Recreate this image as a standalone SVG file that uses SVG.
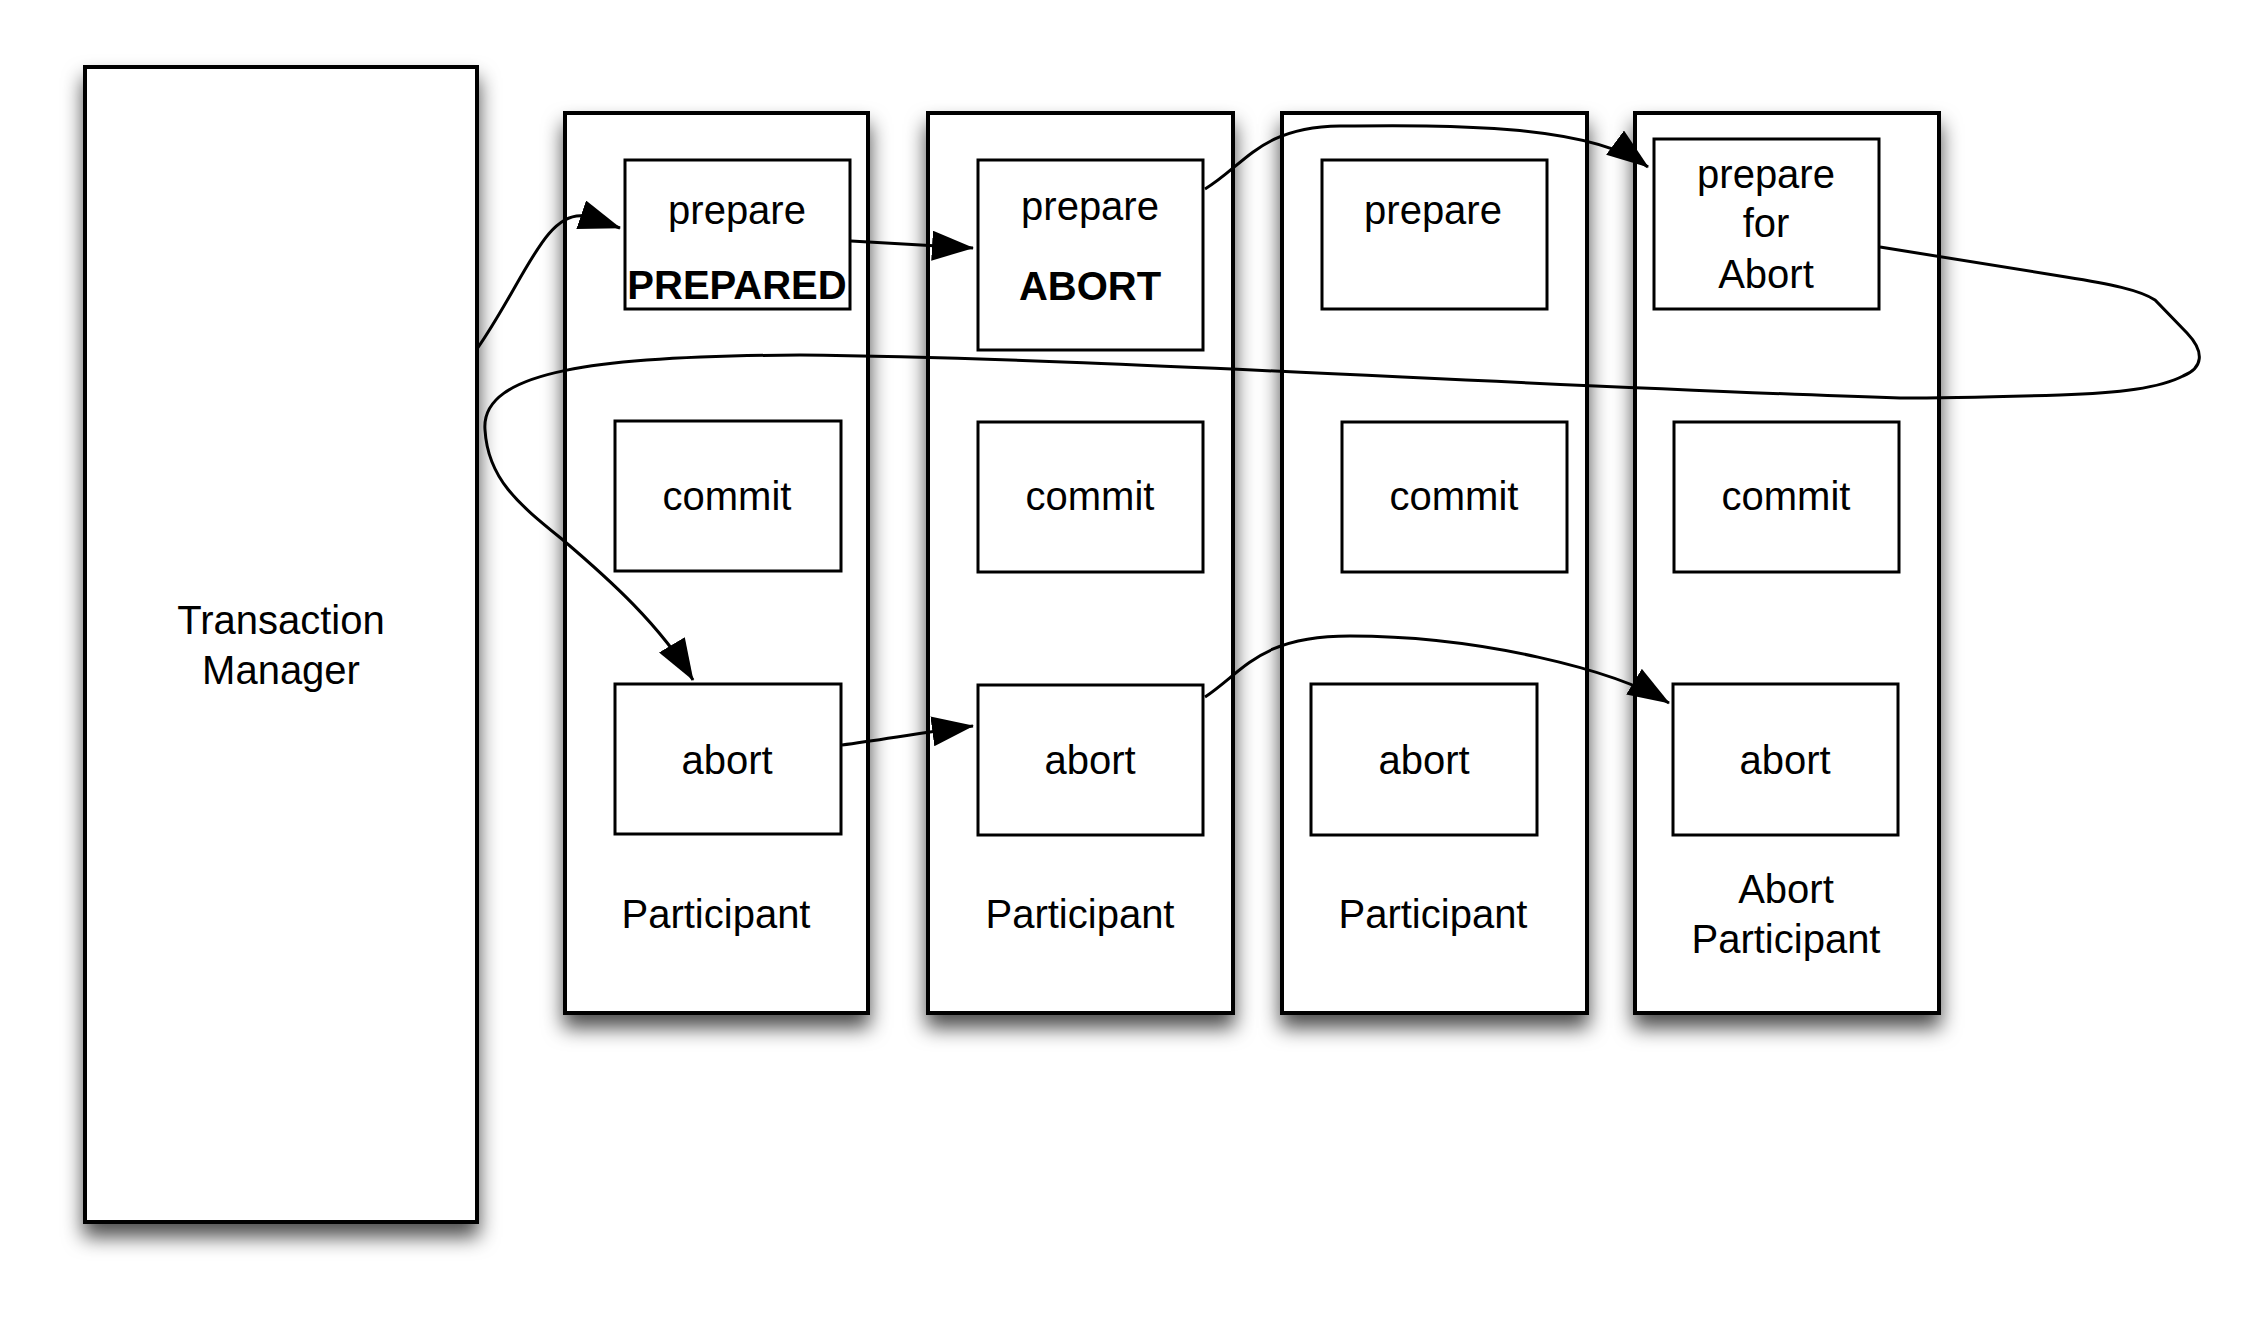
<svg xmlns="http://www.w3.org/2000/svg" width="2245" height="1320" viewBox="0 0 2245 1320">
<defs>
<style>
.outer{fill:#fff;stroke:#000;stroke-width:4;filter:url(#sh)}
.inner{fill:#fff;stroke:#000;stroke-width:3}
.t{font-family:"Liberation Sans",Arial,Helvetica,sans-serif;font-size:40px;fill:#000;text-anchor:middle}
.b{font-weight:bold}
.c{fill:none;stroke:#000;stroke-width:3;marker-end:url(#ah)}
</style>
<filter id="sh" x="-20%" y="-10%" width="140%" height="125%">
<feDropShadow dx="0" dy="13" stdDeviation="10" flood-color="#000" flood-opacity="0.7"/>
</filter>
<marker id="ah" markerUnits="userSpaceOnUse" markerWidth="42" markerHeight="30" viewBox="0 0 42 30" refX="41" refY="15" orient="auto">
<path d="M0,0 L42,15 L0,30 z" fill="#000"/>
</marker>
</defs>
<rect width="2245" height="1320" fill="#fff"/>

<g id="tm">
<rect class="outer" x="85" y="67" width="392" height="1155"/>
<text class="t" x="281" y="634">Transaction</text>
<text class="t" x="281" y="684">Manager</text>
</g>

<g id="p1">
<rect class="outer" x="565" y="113" width="303" height="900"/>
<text class="t" x="716" y="928">Participant</text>
</g>
<g id="p2">
<rect class="outer" x="928" y="113" width="305" height="900"/>
<text class="t" x="1080" y="928">Participant</text>
</g>
<g id="p3">
<rect class="outer" x="1282" y="113" width="305" height="900"/>
<text class="t" x="1433" y="928">Participant</text>
</g>
<g id="p4">
<rect class="outer" x="1635" y="113" width="304" height="900"/>
<text class="t" x="1786" y="903">Abort</text>
<text class="t" x="1786" y="953">Participant</text>
</g>

<g id="p1-prepare">
<rect class="inner" x="625" y="160" width="225" height="149"/>
<text class="t" x="737" y="224">prepare</text>
<text class="t b" x="737" y="299">PREPARED</text>
</g>
<g id="p1-commit">
<rect class="inner" x="615" y="421" width="226" height="150"/>
<text class="t" x="727" y="510">commit</text>
</g>
<g id="p1-abort">
<rect class="inner" x="615" y="684" width="226" height="150"/>
<text class="t" x="727" y="774">abort</text>
</g>

<g id="p2-prepare">
<rect class="inner" x="978" y="160" width="225" height="190"/>
<text class="t" x="1090" y="220">prepare</text>
<text class="t b" x="1090" y="300">ABORT</text>
</g>
<g id="p2-commit">
<rect class="inner" x="978" y="422" width="225" height="150"/>
<text class="t" x="1090" y="510">commit</text>
</g>
<g id="p2-abort">
<rect class="inner" x="978" y="685" width="225" height="150"/>
<text class="t" x="1090" y="774">abort</text>
</g>

<g id="p3-prepare">
<rect class="inner" x="1322" y="160" width="225" height="149"/>
<text class="t" x="1433" y="224">prepare</text>
</g>
<g id="p3-commit">
<rect class="inner" x="1342" y="422" width="225" height="150"/>
<text class="t" x="1454" y="510">commit</text>
</g>
<g id="p3-abort">
<rect class="inner" x="1311" y="684" width="226" height="151"/>
<text class="t" x="1424" y="774">abort</text>
</g>

<g id="p4-prepare">
<rect class="inner" x="1654" y="139" width="225" height="170"/>
<text class="t" x="1766" y="188">prepare</text>
<text class="t" x="1766" y="237">for</text>
<text class="t" x="1766" y="288">Abort</text>
</g>
<g id="p4-commit">
<rect class="inner" x="1674" y="422" width="225" height="150"/>
<text class="t" x="1786" y="510">commit</text>
</g>
<g id="p4-abort">
<rect class="inner" x="1673" y="684" width="225" height="151"/>
<text class="t" x="1785" y="774">abort</text>
</g>

<g id="connectors">
<path class="c" d="M477,349 C525,280 545,210 585,216 L620,228"/>
<path class="c" d="M851,241 L973,248"/>
<path class="c" d="M1205,189 C1245,165 1260,127 1340,126 C1450,125 1590,124 1648,167"/>
<path class="c" d="M1880,247 L2066,277 C2110,284 2140,290 2155,300 L2187,333 C2205,352 2203,368 2183,376 C2160,388 2120,393 2060,395 C1990,397 1950,398 1900,398 C1500,385 1100,358 800,355 C600,356 480,370 485,430 C488,480 520,505 563,540 C610,580 660,625 693,680"/>
<path class="c" d="M842,745 C880,740 920,733 973,726"/>
<path class="c" d="M1205,697 C1245,670 1260,636 1350,636 C1480,636 1615,670 1669,703"/>
</g>
</svg>
